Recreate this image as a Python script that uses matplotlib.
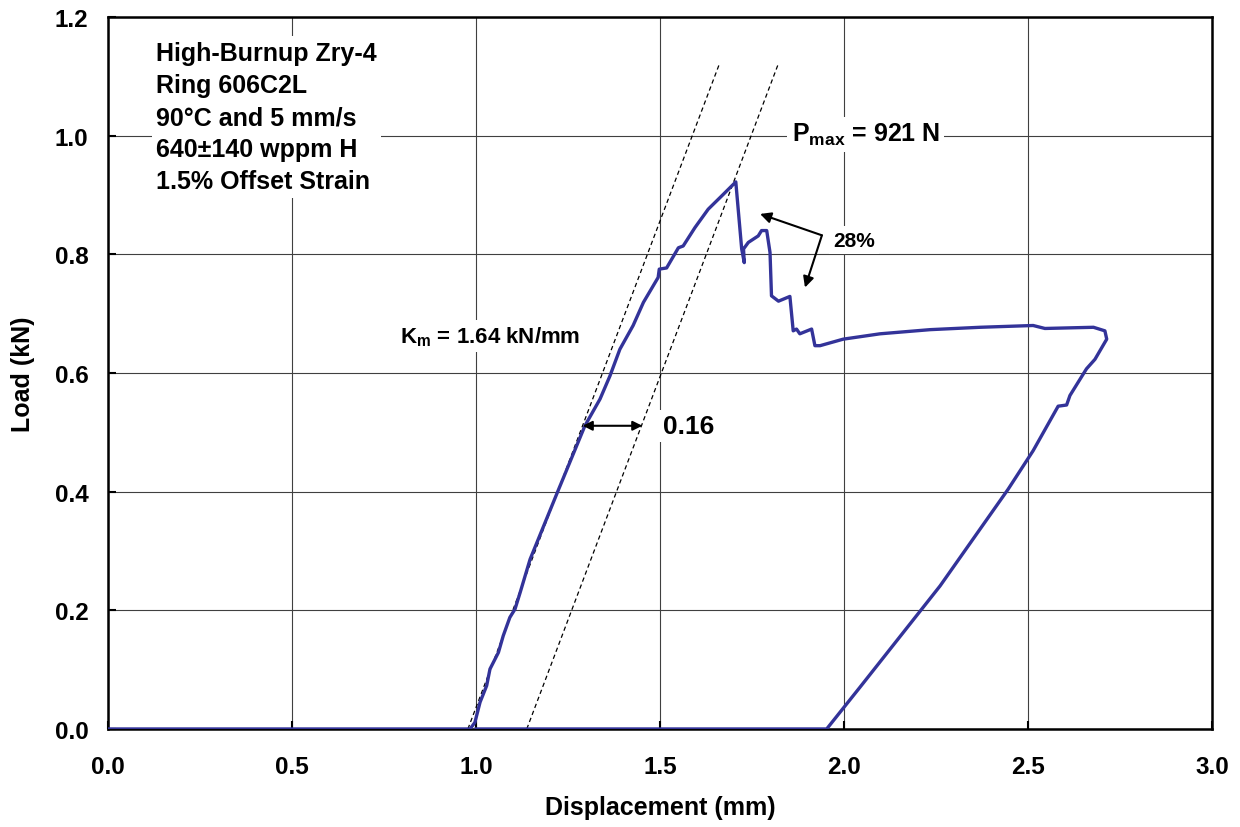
import numpy as np
import matplotlib
matplotlib.use("Agg")
import matplotlib.pyplot as plt

plt.rcParams['font.family'] = ['Liberation Sans', 'DejaVu Sans']
plt.rcParams['font.weight'] = 'bold'
plt.rcParams['mathtext.fontset'] = 'custom'
plt.rcParams['mathtext.bf'] = 'Liberation Sans:bold'
plt.rcParams['mathtext.rm'] = 'Liberation Sans:bold'

# Load-displacement trace (mm, kN)
disp_mm = [0.0, 0.984, 0.997, 1.011, 1.029, 1.038, 1.061, 1.074, 1.092, 1.106,
           1.120, 1.147, 1.222, 1.296, 1.337, 1.364, 1.391, 1.427, 1.455, 1.495,
           1.498, 1.518, 1.550, 1.563, 1.595, 1.631, 1.672, 1.706, 1.722, 1.729,
           1.727, 1.740, 1.767, 1.776, 1.790, 1.799, 1.803, 1.822, 1.853, 1.862,
           1.871, 1.880, 1.912, 1.921, 1.935, 1.998, 2.098, 2.234, 2.370, 2.514,
           2.546, 2.678, 2.709, 2.714, 2.682, 2.659, 2.614, 2.605, 2.582, 2.514,
           2.446, 2.261, 2.043, 1.953, 1.0]
load_kn = [0.0, 0.0, 0.011, 0.045, 0.073, 0.101, 0.129, 0.157, 0.188, 0.202,
           0.230, 0.286, 0.400, 0.511, 0.556, 0.595, 0.640, 0.680, 0.719, 0.761,
           0.775, 0.777, 0.811, 0.814, 0.845, 0.876, 0.901, 0.922, 0.809, 0.786,
           0.809, 0.820, 0.831, 0.840, 0.840, 0.803, 0.730, 0.721, 0.729, 0.671,
           0.674, 0.666, 0.674, 0.646, 0.646, 0.657, 0.666, 0.673, 0.677, 0.680,
           0.675, 0.677, 0.671, 0.657, 0.623, 0.607, 0.562, 0.546, 0.544, 0.469,
           0.404, 0.241, 0.070, 0.0, 0.0]

# Stiffness lines
km = 1.64          # kN/mm
x_start = 0.978    # mm, where the elastic line hits zero load
offset = 0.16      # mm, 1.5% offset strain
line_top = 1.12    # kN

info_lines = ["High-Burnup Zry-4", "Ring 606C2L", "90°C and 5 mm/s",
              "640±140 wppm H", "1.5% Offset Strain"]

fig = plt.figure(figsize=(12.4, 8.28), dpi=100)
ax = fig.add_axes([0.0871, 0.1184, 0.8903, 0.8599])

ax.plot(disp_mm, load_kn, color="#333399", linewidth=2.4, zorder=4)

yl = np.array([0.0, line_top])
ax.plot(x_start + yl / km, yl, color="black", linestyle=(0, (3.5, 2.5)), linewidth=0.9, zorder=3)
ax.plot(x_start + offset + yl / km, yl, color="black", linestyle=(0, (3.5, 2.5)), linewidth=0.9, zorder=3)

ax.set_xlim(0, 3.0)
ax.set_ylim(0, 1.2)
ax.set_xticks(np.arange(0, 3.01, 0.5))
ax.set_yticks(np.arange(0, 1.21, 0.2))
ax.xaxis.set_major_formatter(matplotlib.ticker.FormatStrFormatter('%.1f'))
ax.yaxis.set_major_formatter(matplotlib.ticker.FormatStrFormatter('%.1f'))
ax.grid(True, color="#404040", linewidth=0.8, zorder=0)
ax.set_axisbelow(True)
ax.tick_params(axis='both', direction='in', length=6, width=1.5, labelsize=17.5)
ax.tick_params(axis='x', pad=19)
ax.tick_params(axis='y', pad=14)
for s in ax.spines.values():
    s.set_linewidth(1.8)

ax.set_xlabel("Displacement (mm)", fontsize=18, fontweight='bold')
ax.set_ylabel("Load (kN)", fontsize=18, fontweight='bold')
ax.xaxis.set_label_coords(0.5, -0.093)
ax.yaxis.set_label_coords(-0.066, 0.5)

box = dict(facecolor="white", edgecolor="none", pad=3)

ax.text(0.13, 1.16, "\n".join(info_lines), fontsize=18, fontweight='bold',
        va='top', ha='left', linespacing=1.43, bbox=box, zorder=5)

ax.text(1.858, 1.0025, r"$\mathbf{P_{max}}$ = 921 N", fontsize=18, fontweight='bold',
        va='center', ha='left', bbox=box, zorder=5)

ax.text(0.793, 0.662, r"$\mathbf{K_{m}}$ = 1.64 kN/mm", fontsize=16, fontweight='bold',
        va='center', ha='left', bbox=box, zorder=5)

ax.text(1.508, 0.511, "0.16", fontsize=19, fontweight='bold',
        va='center', ha='left', bbox=box, zorder=5)

ax.text(1.97, 0.824, "28%", fontsize=15, fontweight='bold',
        va='center', ha='left', bbox=box, zorder=5)

ax.annotate("", xy=(1.290, 0.511), xytext=(1.452, 0.511),
            arrowprops=dict(arrowstyle="<|-|>", color="black", lw=1.5,
                            mutation_scale=14, shrinkA=0, shrinkB=0), zorder=6)
ax.annotate("", xy=(1.772, 0.868), xytext=(1.94, 0.832),
            arrowprops=dict(arrowstyle="-|>", color="black", lw=1.5,
                            mutation_scale=16, shrinkA=0, shrinkB=0), zorder=6)
ax.annotate("", xy=(1.894, 0.744), xytext=(1.94, 0.832),
            arrowprops=dict(arrowstyle="-|>", color="black", lw=1.5,
                            mutation_scale=16, shrinkA=0, shrinkB=0), zorder=6)

plt.savefig("out.png", dpi=100)
plt.close()
